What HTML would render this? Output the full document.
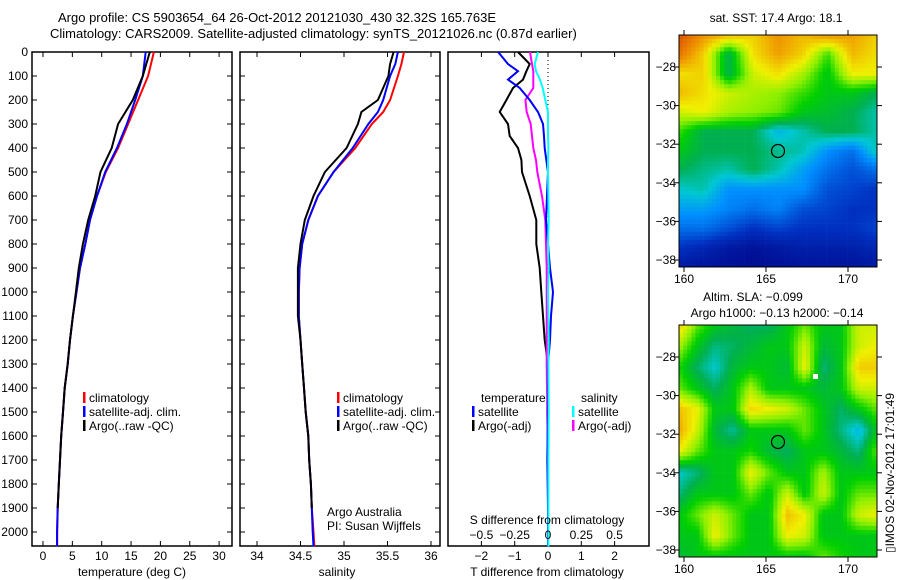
<!DOCTYPE html>
<html><head><meta charset="utf-8"><style>
body{margin:0;background:#fff}
svg{display:block;font-family:"Liberation Sans",sans-serif}
text{font-size:12px;fill:#000}
</style></head><body>
<svg id="fig" width="900" height="580" viewBox="0 0 900 580">
<rect width="900" height="580" fill="#fff"/>
<text x="58" y="22" style="font-size:13px">Argo profile: CS 5903654_64 26-Oct-2012 20121030_430 32.32S 165.763E</text>
<text x="50" y="38" style="font-size:13px">Climatology: CARS2009. Satellite-adjusted climatology: synTS_20121026.nc (0.87d earlier)</text>
<g id="g1"></g>
<g id="g2"></g>
<g id="g3"></g>
<g id="m1"></g>
<g id="m2"></g>
<text transform="translate(894,553) rotate(-90)" style="font-size:12px">▯IMOS 02-Nov-2012 17:01:49</text>
</svg>
<script>
// ---- profile data ----
const depthT = [0,100,200,300,400,500,600,700,800,900,1000,1100,1200,1300,1400,1500,1600,1700,1800,1900,2000,2060];
const tempClim = [18.9,17.9,16.2,14.5,12.8,10.7,9.2,8.0,7.2,6.3,5.7,5.1,4.6,4.2,3.7,3.4,3.1,2.9,2.7,2.5,2.4,2.4];
const tempSat  = [17.5,17.0,15.7,14.3,12.6,10.6,9.2,8.0,7.2,6.3,5.7,5.1,4.6,4.2,3.7,3.4,3.1,2.9,2.7,2.5,2.4,2.4];
const tempArgo = [18.2,17.0,15.3,12.8,11.7,9.8,8.9,7.7,6.8,6.1,5.6,5.1,4.6,4.2,3.7,3.4,3.1,2.9,2.7,2.5,2.4,2.4];
const depthS = [0,50,100,200,250,300,400,500,600,700,800,900,1000,1100,1200,1300,1400,1500,1600,1700,1800,1900,2000,2060];
const salClim = [35.69,35.66,35.62,35.53,35.45,35.32,35.13,34.88,34.70,34.59,34.52,34.49,34.48,34.48,34.50,34.52,34.54,34.56,34.59,34.60,34.62,34.63,34.65,34.66];
const salSat  = [35.62,35.59,35.53,35.45,35.39,35.28,35.10,34.88,34.70,34.59,34.52,34.49,34.48,34.48,34.50,34.52,34.54,34.56,34.59,34.60,34.62,34.63,34.64,34.65];
const salArgo = [35.57,35.53,35.51,35.39,35.20,35.16,35.03,34.78,34.65,34.55,34.50,34.47,34.47,34.47,34.50,34.52,34.54,34.56,34.59,34.60,34.62,34.63,34.64,34.64];
const depthD = [0,50,80,115,150,200,250,300,350,400,450,500,600,700,800,900,1000,1100,1200,1300,1500,1700,1900,2060];
const dTsat  = [-1.5,-1.2,-0.9,-1.2,-0.85,-0.55,-0.3,-0.15,-0.12,-0.1,-0.05,0,-0.03,-0.06,0,0.06,0.15,0.09,0.06,0,0,-0.02,0,0];
const dTargo = [-0.9,-0.55,-0.65,-0.75,-1.05,-1.25,-1.45,-1.2,-1.15,-0.9,-0.8,-0.78,-0.55,-0.35,-0.35,-0.25,-0.2,-0.15,-0.1,0,-0.02,0,0,0];
const dSsat  = [-0.075,-0.1,-0.09,-0.06,-0.04,-0.02,0,0,0,0.003,0,0,0.003,0.005,0,0.005,0,0.003,0.005,0.003,0.005,0.003,0.003,0.003];
const dSargo = [-0.135,-0.12,-0.11,-0.11,-0.11,-0.17,-0.16,-0.13,-0.12,-0.11,-0.09,-0.08,-0.045,-0.02,-0.015,-0.01,-0.01,-0.01,-0.01,-0.01,-0.005,0,0,0];
const depthTicks = [0,100,200,300,400,500,600,700,800,900,1000,1100,1200,1300,1400,1500,1600,1700,1800,1900,2000];
const tempTicks = [0,5,10,15,20,25,30];
const salTicks = [34,34.5,35,35.5,36];
const dTTicks = [-2,-1,0,1,2];
const dSTicks = [-0.5,-0.25,0,0.25,0.5];
const dSLabels = ['\u22120.5','\u22120.25','0','0.25','0.5'];

const NS='http://www.w3.org/2000/svg';
function mk(parent,tag,attrs){const e=document.createElementNS(NS,tag);for(const k in attrs)e.setAttribute(k,attrs[k]);parent.appendChild(e);return e;}
const Y0=52, Y1=546, yD=d=>52+d*0.24;

function frame(g,x0,x1){
  const r=mk(g,'rect',{x:x0,y:Y0,width:x1-x0,height:Y1-Y0,fill:'none',stroke:'#000','stroke-width':1.5});
  
  
  depthTicks.forEach(d=>{
    const y=yD(d);
    mk(g,'line',{x1:x0,x2:x0+5,y1:y,y2:y,stroke:'#000'});
    mk(g,'line',{x1:x1-5,x2:x1,y1:y,y2:y,stroke:'#000'});
  });
}
function xticks(g,vals,labels,sx,ly,top){
  vals.forEach((v,i)=>{
    const x=sx(v);
    if(top){mk(g,'line',{x1:x,x2:x,y1:Y0,y2:Y0+5,stroke:'#000'});}
    mk(g,'line',{x1:x,x2:x,y1:Y1-5,y2:Y1,stroke:'#000'});
    const t=mk(g,'text',{x:x,y:ly,'text-anchor':'middle'});t.textContent=labels[i];
    
    
  });
}
function line(g,xs,ds,sx,color,name){
  const pts=xs.map((v,i)=>sx(v).toFixed(1)+','+yD(ds[i]).toFixed(1)).join(' ');
  const p=mk(g,'polyline',{points:pts,fill:'none',stroke:color,'stroke-width':2});
  
  
}
function txt(g,x,y,s,name,anchor){const t=mk(g,'text',{x:x,y:y,'text-anchor':anchor||'start'});t.textContent=s;
  
  return t;}
function leg(g,x,y,color,label,name){
  mk(g,'rect',{x:x,y:y-10,width:2.5,height:11,fill:color});
  txt(g,x+6,y,label,name);
}
// panel 1
const g1=document.getElementById('g1');
const sxT=v=>43+v*5.87;
frame(g1,32,232);
depthTicks.forEach(d=>{txt(g1,28,yD(d)+4,String(d),'y-tick-label','end');});
xticks(g1,tempTicks,tempTicks.map(String),sxT,560,true);
line(g1,tempClim,depthT,sxT,'#ff0000','temp-climatology-line');
line(g1,tempSat,depthT,sxT,'#0000ff','temp-satellite-line');
line(g1,tempArgo.slice(0,20),depthT.slice(0,20),sxT,'#000','temp-argo-line');
txt(g1,132,576,'temperature (deg C)','x-axis-title','middle');
leg(g1,83,402,'#f00','climatology','legend-climatology');
leg(g1,83,416,'#00f','satellite-adj. clim.','legend-satellite');
leg(g1,83,430,'#000','Argo(..raw -QC)','legend-argo');
// panel 2
const g2=document.getElementById('g2');
const sxS=v=>257+(v-34)*87;
frame(g2,240,440);
xticks(g2,salTicks,salTicks.map(String),sxS,560,true);
line(g2,salClim,depthS,sxS,'#ff0000','sal-climatology-line');
line(g2,salSat,depthS,sxS,'#0000ff','sal-satellite-line');
line(g2,salArgo.slice(0,22),depthS.slice(0,22),sxS,'#000','sal-argo-line');
txt(g2,337,576,'salinity','x-axis-title','middle');
leg(g2,337,402,'#f00','climatology','legend-climatology');
leg(g2,337,416,'#00f','satellite-adj. clim.','legend-satellite');
leg(g2,337,430,'#000','Argo(..raw -QC)','legend-argo');
txt(g2,327,516,'Argo Australia','credit-line-1');
txt(g2,327,530,'PI: Susan Wijffels','credit-line-2');
// panel 3
const g3=document.getElementById('g3');
const sxDT=v=>548+v*33.3, sxDS=v=>548+v*133.2;
mk(g3,'rect',{x:448,y:Y0,width:201,height:Y1-Y0,fill:'none',stroke:'#000','stroke-width':1.5});
dTTicks.forEach(v=>{const x=sxDT(v);mk(g3,'line',{x1:x,x2:x,y1:Y0,y2:Y0+5,stroke:'#000'});mk(g3,'line',{x1:x,x2:x,y1:Y1-5,y2:Y1,stroke:'#000'});
  txt(g3,x,560,v<0?'\u2212'+(-v):String(v),'x-tick-label','middle');});
mk(g3,'line',{x1:548,x2:548,y1:Y0,y2:Y1,stroke:'#000','stroke-dasharray':'1,3'});
line(g3,dTargo,depthD,sxDT,'#000','dt-argo-line');
line(g3,dSargo,depthD,sxDS,'#ff00ff','ds-argo-line');
line(g3,dTsat,depthD,sxDT,'#0000ff','dt-satellite-line');
line(g3,dSsat,depthD,sxDS,'#00ffff','ds-satellite-line');
dSTicks.forEach((v,i)=>txt(g3,sxDS(v),539,dSLabels[i],'s-tick-label','middle'));
txt(g3,481,402,'temperature','legend-temperature-heading');
leg(g3,472,416,'#00f','satellite','legend-t-satellite');
leg(g3,472,430,'#000','Argo(-adj)','legend-t-argo');
txt(g3,581,402,'salinity','legend-salinity-heading');
leg(g3,572,416,'#0ff','satellite','legend-s-satellite');
leg(g3,572,430,'#f0f','Argo(-adj)','legend-s-argo');
txt(g3,547,524,'S difference from climatology','s-axis-title','middle');
txt(g3,547,576,'T difference from climatology','t-axis-title','middle');

// ---- maps ----
const sstGrid=[
[0.9,0.8,0.75,0.72,0.8,0.75,0.8,0.78,0.72],
[0.85,0.72,0.45,0.7,0.78,0.72,0.55,0.75,0.7],
[0.7,0.72,0.45,0.65,0.7,0.62,0.5,0.68,0.68],
[0.75,0.7,0.65,0.62,0.6,0.55,0.5,0.5,0.45],
[0.65,0.68,0.62,0.6,0.58,0.5,0.48,0.45,0.4],
[0.55,0.45,0.45,0.45,0.35,0.4,0.45,0.45,0.4],
[0.5,0.45,0.45,0.45,0.42,0.4,0.3,0.25,0.4],
[0.45,0.42,0.4,0.45,0.4,0.32,0.25,0.2,0.25],
[0.38,0.4,0.3,0.3,0.3,0.3,0.2,0.18,0.15],
[0.32,0.32,0.28,0.25,0.28,0.2,0.18,0.15,0.15],
[0.25,0.25,0.2,0.15,0.18,0.15,0.15,0.15,0.18],
[0.15,0.12,0.08,0.06,0.08,0.1,0.1,0.1,0.12],
[0.08,0.06,0.05,0.04,0.05,0.06,0.06,0.06,0.08]];
const slaGrid=[
[.65,.55,.5,.48,.46,.46,.5,.55,.5,.5,.6,.6],
[.58,.5,.45,.46,.48,.5,.5,.6,.48,.5,.6,.62],
[.52,.46,.42,.48,.5,.5,.48,.62,.45,.5,.65,.65],
[.55,.5,.46,.5,.58,.5,.5,.5,.48,.5,.6,.6],
[.66,.62,.5,.5,.64,.62,.6,.55,.5,.46,.5,.55],
[.68,.6,.48,.44,.5,.5,.5,.55,.5,.45,.4,.5],
[.62,.55,.5,.5,.52,.48,.46,.5,.5,.48,.45,.55],
[.42,.45,.5,.5,.62,.55,.5,.5,.58,.5,.5,.5],
[.45,.5,.5,.5,.55,.5,.6,.5,.6,.5,.55,.55],
[.5,.55,.6,.55,.5,.5,.66,.62,.5,.5,.6,.62],
[.5,.5,.62,.55,.5,.5,.62,.6,.5,.5,.5,.5],
[.48,.5,.5,.5,.5,.5,.5,.5,.55,.52,.5,.5]];
const lonTicks=[160,165,170];
const latTicks=[-28,-30,-32,-34,-36,-38];
const cmap=[[0,[0,0,128]],[0.15,[0,48,192]],[0.3,[0,144,255]],[0.38,[0,200,210]],[0.45,[0,176,80]],[0.52,[0,208,0]],[0.6,[144,240,0]],[0.68,[240,240,0]],[0.78,[240,160,0]],[0.9,[224,80,0]],[1,[160,0,0]]];
function col(v){v=Math.max(0,Math.min(1,v));for(let i=1;i<cmap.length;i++){if(v<=cmap[i][0]){const a=cmap[i-1],b=cmap[i],t=(v-a[0])/(b[0]-a[0]);return 'rgb('+a[1].map((c,k)=>Math.round(c+(b[1][k]-c)*t)).join(',')+')';}}return 'rgb(160,0,0)';}
function sample(g,fx,fy){const R=g.length-1,C=g[0].length-1;fx=Math.max(0,Math.min(C,fx));fy=Math.max(0,Math.min(R,fy));
 const x0=Math.min(Math.floor(fx),C-1),y0=Math.min(Math.floor(fy),R-1),tx=fx-x0,ty=fy-y0;
 return g[y0][x0]*(1-tx)*(1-ty)+g[y0][x0+1]*tx*(1-ty)+g[y0+1][x0]*(1-tx)*ty+g[y0+1][x0+1]*tx*ty;}
function map(id,grid,top,bot,latTop,latPx,cx,cy,contrast){
  const g=document.getElementById(id);const L=679,R=877;const cs=4.1;
  const C=grid[0].length-1,Rn=grid.length-1;
  for(let y=top;y<bot;y+=cs){for(let x=L;x<R;x+=cs){
    const fx=(x+cs/2-L)/(R-L)*C, fy=(y+cs/2-top)/(bot-top)*Rn;
    const v=0.5+(sample(grid,fx,fy)-0.5)*contrast;
    mk(g,'rect',{x:x.toFixed(1),y:y.toFixed(1),width:(Math.min(cs,R-x)+0.3).toFixed(1),height:(Math.min(cs,bot-y)+0.3).toFixed(1),fill:col(v)});
  }}
  mk(g,'rect',{x:L,y:top,width:R-L,height:bot-top,fill:'none',stroke:'#000'});
  const sxL=v=>684+(v-160)*16.4, syL=v=>latTop+(latTicks[0]-v)*latPx;
  lonTicks.forEach(v=>{const x=sxL(v);mk(g,'line',{x1:x,x2:x,y1:top-5,y2:top,stroke:'#000'});mk(g,'line',{x1:x,x2:x,y1:bot,y2:bot+5,stroke:'#000'});
    txt(g,x,bot+16,String(v),'lon-tick-label','middle');});
  latTicks.forEach(v=>{const y=syL(v);mk(g,'line',{x1:L-5,x2:L,y1:y,y2:y,stroke:'#000'});mk(g,'line',{x1:R,x2:R+5,y1:y,y2:y,stroke:'#000'});
    txt(g,L-3,y+4,'\u2212'+(-v),'lat-tick-label','end');});
  const c=mk(g,'circle',{cx:cx,cy:cy,r:6.5,fill:'none',stroke:'#000','stroke-width':1.2});
  
  
}
map('m1',sstGrid,35,267,67,19.3,778,151,1);
map('m2',slaGrid,325,557,357,19.3,778,442,1.5);
const m1=document.getElementById('m1'),m2=document.getElementById('m2');
txt(m1,776,22,'sat. SST: 17.4 Argo: 18.1','sst-map-title','middle');
txt(m2,753,301,'Altim. SLA: \u22120.099','sla-map-title','middle');
txt(m2,777,317,'Argo h1000: \u22120.13 h2000: \u22120.14','sla-map-subtitle','middle');
mk(m2,'rect',{x:813,y:374,width:5,height:5,fill:'#fff'});
</script>
</body></html>
